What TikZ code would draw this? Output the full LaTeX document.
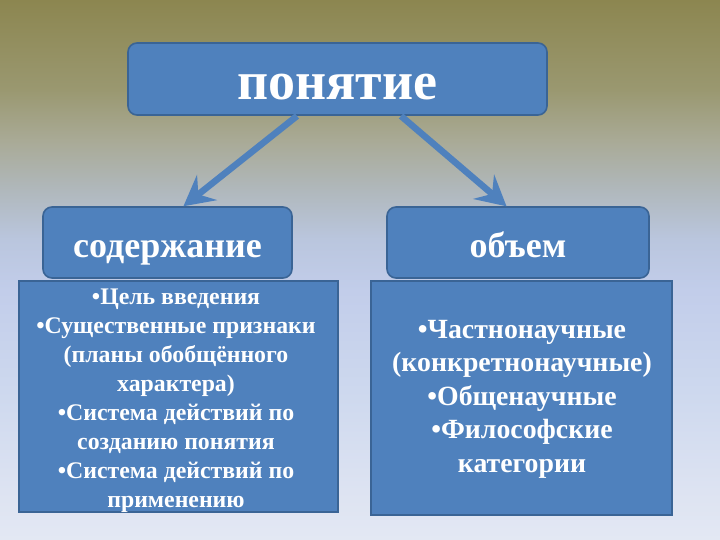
\documentclass[tikz,border=0pt]{standalone}
\usepackage{fontspec}
\setmainfont{Liberation Serif}
\usetikzlibrary{arrows.meta}
\definecolor{boxfill}{HTML}{4F81BD}
\definecolor{boxline}{HTML}{3A6495}
\definecolor{bgA}{HTML}{8C8650}
\definecolor{bgB}{HTML}{9A9870}
\definecolor{bgC}{HTML}{A9AA96}
\definecolor{bgD}{HTML}{B0B8BC}
\definecolor{bgE}{HTML}{BAC6DE}
\definecolor{bgF}{HTML}{C2CDEA}
\definecolor{bgG}{HTML}{CDD8EE}
\definecolor{bgH}{HTML}{DDE3F2}
\definecolor{bgI}{HTML}{E3E8F3}
\pgfdeclareverticalshading{bgshade}{100bp}{color(0bp)=(bgI); color(25bp)=(bgI); color(29.6bp)=(bgH); color(38.9bp)=(bgG); color(48.1bp)=(bgF); color(52.8bp)=(bgE); color(57.4bp)=(bgD); color(62bp)=(bgC); color(66.7bp)=(bgB); color(75bp)=(bgA); color(100bp)=(bgA)}
\tikzset{
  roundbox/.style={draw=boxline, line width=1.6pt, fill=boxfill, rounded corners=9pt},
  rectbox/.style={draw=boxline, line width=1.6pt, fill=boxfill},
  label/.style={text=white, inner sep=0pt},
  arr/.style={draw=boxfill, line width=6.5pt, -{Stealth[length=30pt, width=32pt, inset=11pt]}, shorten >=-2pt}
}
\begin{document}
\begin{tikzpicture}[x=1pt, y=-1pt]
\useasboundingbox (0,0) rectangle (720,540);
\shade[shading=bgshade] (0,0) rectangle (720,540);
% boxes
\draw[roundbox] (128,43) rectangle (547,115);
\draw[roundbox] (43,207) rectangle (292,278);
\draw[roundbox] (387,207) rectangle (649,278);
\draw[rectbox] (19,281) rectangle (338,512);
\draw[rectbox] (371,281) rectangle (672,515);
% labels
\node[label, anchor=base, font=\bfseries\fontsize{54}{60}\selectfont] (top) at (337.5,100) {понятие};
\node[label, anchor=base, font=\bfseries\fontsize{36}{40}\selectfont] (cont) at (167.5,257) {содержание};
\node[label, anchor=base, font=\bfseries\fontsize{36}{40}\selectfont] (vol) at (518,257) {объем};
\node[label, align=center, font=\bfseries\fontsize{23.8}{29}\selectfont] (ltext) at (176,401)
  {•Цель введения\\•Существенные признаки\\(планы обобщённого\\характера)\\•Система действий по\\созданию понятия\\•Система действий по\\применению};
\node[label, align=center, font=\bfseries\fontsize{27.8}{33.5}\selectfont] (rtext) at (522,399)
  {•Частнонаучные\\(конкретнонаучные)\\•Общенаучные\\•Философские\\категории};
% arrows
\coordinate (a1s) at (297,116);
\coordinate (a1e) at (185,205);
\coordinate (a2s) at (401,116);
\coordinate (a2e) at (505,205);
\draw[arr] (a1s) -- (a1e);
\draw[arr] (a2s) -- (a2e);
\end{tikzpicture}
\end{document}
